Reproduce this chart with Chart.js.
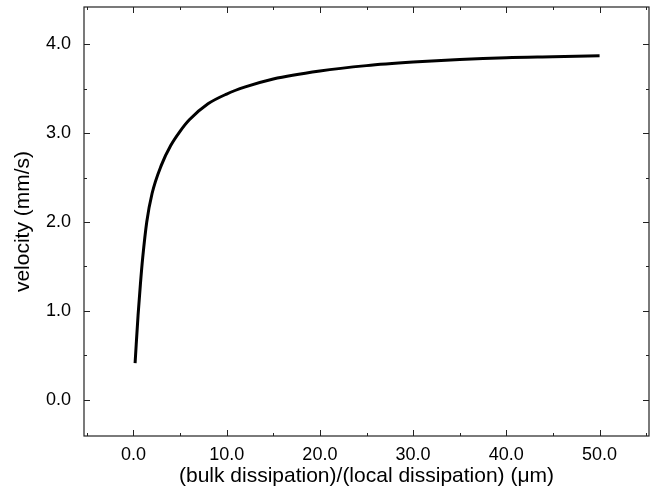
<!DOCTYPE html>
<html>
<head>
<meta charset="utf-8">
<script src="https://cdn.jsdelivr.net/npm/chart.js@4.4.1/dist/chart.umd.min.js"></script>
<style>
  html, body { margin:0; padding:0; background:#fff; }
  #wrap { width:655px; height:493px; }
</style>
</head>
<body>
<div id="wrap"><canvas id="c" width="655" height="493"></canvas></div>
<script>
// ====== DATA ======
const ratio = [0.18, 0.3, 0.5, 0.75, 1.0, 1.43, 2.0, 3.0, 4.0, 5.0, 6.0, 8.0, 10.0, 12.0, 15.0, 20.0, 25.0, 30.0, 35.0, 40.0, 45.0, 50.0];
const velocity = [0.41, 0.62, 0.95, 1.30, 1.60, 2.00, 2.32, 2.64, 2.86, 3.02, 3.15, 3.33, 3.44, 3.52, 3.61, 3.70, 3.76, 3.80, 3.83, 3.85, 3.86, 3.87];
const xTicks = [0, 10, 20, 30, 40, 50];
const xMinor = [-5, 5, 15, 25, 35, 45, 55];
const yTicks = [0, 1, 2, 3, 4];
const yMinor = [0.5, 1.5, 2.5, 3.5];

const FONT = "'Liberation Sans', Arial, Helvetica, sans-serif";

// inward ticks + frame
const frame = {
  id: 'frame',
  afterDraw(chart){
    const { ctx, chartArea: a, scales: { x, y } } = chart;
    ctx.save();
    ctx.strokeStyle = '#222';
    ctx.lineWidth = 1.2;
    ctx.strokeRect(a.left, a.top, a.right - a.left, a.bottom - a.top);
    const tick = (vals, len) => {
      vals.forEach(v => {
        if (v < x.min || v > x.max) return;
        const px = Math.round(x.getPixelForValue(v)) + 0.5;
        ctx.beginPath();
        ctx.moveTo(px, a.bottom); ctx.lineTo(px, a.bottom - len);
        ctx.moveTo(px, a.top); ctx.lineTo(px, a.top + len);
        ctx.stroke();
      });
    };
    const tickY = (vals, len) => {
      vals.forEach(v => {
        if (v < y.min || v > y.max) return;
        const py = Math.round(y.getPixelForValue(v)) + 0.5;
        ctx.beginPath();
        ctx.moveTo(a.left, py); ctx.lineTo(a.left + len, py);
        ctx.moveTo(a.right, py); ctx.lineTo(a.right - len, py);
        ctx.stroke();
      });
    };
    ctx.lineWidth = 1;
    tick(xTicks, 6); tick(xMinor, 3);
    tickY(yTicks, 6); tickY(yMinor, 3);
    ctx.restore();
  }
};

new Chart(document.getElementById('c'), {
  type: 'line',
  data: {
    datasets: [{
      data: ratio.map((r, i) => ({ x: r, y: velocity[i] })),
      borderColor: '#000',
      borderWidth: 3,
      pointRadius: 0,
      cubicInterpolationMode: 'monotone',
      fill: false
    }]
  },
  options: {
    responsive: false,
    animation: false,
    layout: { padding: { top: 7, right: 6, left: 0, bottom: 0 } },
    plugins: { legend: { display: false }, tooltip: { enabled: false } },
    scales: {
      x: {
        type: 'linear', min: -5.3, max: 55.3,
        afterBuildTicks: s => { s.ticks = xTicks.map(v => ({ value: v })); },
        afterFit: s => { s.height = 57; s.paddingLeft = 0; s.paddingRight = 0; },
        grid: { display: false, drawTicks: false },
        border: { display: false },
        ticks: { color: '#000', font: { family: FONT, size: 18 }, padding: 8, maxRotation: 0,
                 callback: v => Number(v).toFixed(1) },
        title: { display: true, text: '(bulk dissipation)/(local dissipation) (\u03bcm)', color: '#000',
                 font: { family: FONT, size: 21, lineHeight: 1.2 }, padding: { top: 0, bottom: 4 } }
      },
      y: {
        type: 'linear', min: -0.41, max: 4.42,
        afterBuildTicks: s => { s.ticks = yTicks.map(v => ({ value: v })); },
        afterFit: s => { s.width = 84; s.paddingTop = 0; s.paddingBottom = 0; },
        grid: { display: false, drawTicks: false },
        border: { display: false },
        ticks: { color: '#000', font: { family: FONT, size: 18 }, padding: 13,
                 callback: v => Number(v).toFixed(1) },
        title: { display: true, text: 'velocity (mm/s)', color: '#000',
                 font: { family: FONT, size: 21 }, padding: { top: 11, bottom: 0 } }
      }
    }
  },
  plugins: [frame]
});
</script>
</body>
</html>
